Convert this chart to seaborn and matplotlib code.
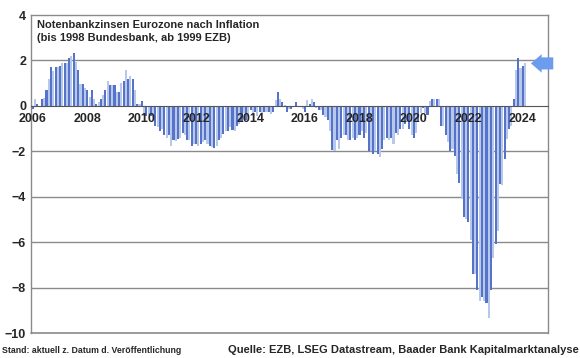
import matplotlib
matplotlib.use("Agg")
import matplotlib.pyplot as plt
import numpy as np
import pandas as pd
import seaborn as sns

START_YEAR = 2006
real_rate = [
    -0.15, 0.3, 0.1, 0.0, 0.3, 0.35, 0.7, 1.2, 1.7, 1.55, 1.7, 1.7,           # 2006
    1.75, 1.9, 1.9, 1.9, 2.1, 2.2, 2.35, 1.95, 1.6, 0.95, 0.95, 0.8,          # 2007
    0.7, 0.4, 0.7, 0.3, 0.1, 0.15, 0.3, 0.5, 0.7, 1.1, 0.9, 0.9,              # 2008
    0.9, 0.6, 0.6, 1.0, 1.1, 1.6, 1.2, 1.3, 1.2, 0.7, 0.1, 0.1,               # 2009
    0.2, -0.45, -0.45, -0.4, -0.45, -0.5, -0.9, -0.95, -1.1, -1.0, -1.3, -1.4,  # 2010
    -1.3, -1.75, -1.5, -1.55, -1.45, -1.4, -1.2, -1.3, -1.5, -1.5, -1.75, -1.7,  # 2011
    -1.7, -1.75, -1.7, -1.6, -1.5, -1.7, -1.75, -1.8, -1.85, -1.75, -1.5, -1.4,  # 2012
    -1.25, -1.1, -1.1, -0.95, -1.05, -1.1, -0.9, -0.8, -0.65, -0.3, -0.6, -0.5,  # 2013
    -0.2, -0.45, -0.25, -0.45, -0.25, -0.35, -0.25, -0.25, -0.25, -0.35, -0.25, 0.25,  # 2014
    0.63, 0.3, 0.15, 0.05, -0.25, -0.15, -0.15, -0.05, 0.15, -0.05, -0.05, -0.15,  # 2015
    -0.25, 0.25, 0.1, 0.3, 0.15, -0.1, -0.2, -0.2, -0.4, -0.5, -0.6, -1.1,     # 2016
    -1.95, -2.0, -1.5, -1.9, -1.4, -1.3, -1.3, -1.5, -1.5, -1.4, -1.5, -1.4,   # 2017
    -1.3, -1.1, -1.4, -1.2, -2.0, -2.0, -2.1, -2.0, -2.1, -2.25, -1.9, -1.5,   # 2018
    -1.4, -1.5, -1.4, -1.7, -1.2, -1.3, -1.0, -1.0, -0.8, -0.7, -1.0, -1.3,    # 2019
    -1.4, -1.2, -0.7, -0.3, -0.1, -0.3, -0.4, 0.2, 0.3, 0.3, 0.3, 0.3,         # 2020
    -0.9, -0.9, -1.3, -1.6, -2.0, -1.9, -2.2, -3.0, -3.4, -4.1, -4.9, -5.0,    # 2021
    -5.1, -5.9, -7.4, -7.4, -8.1, -8.6, -8.4, -8.6, -8.7, -9.35, -8.1, -6.7,   # 2022
    -6.1, -5.5, -3.45, -3.5, -2.35, -1.45, -1.0, -0.9, 0.3, 1.6, 2.1, 1.65,    # 2023
    1.75, 1.9,                                                                 # 2024
]
year_ticks = list(range(2006, 2025, 2))
y_ticks = [-10, -8, -6, -4, -2, 0, 2, 4]

TITLE = "Notenbankzinsen Eurozone nach Inflation\n(bis 1998 Bundesbank, ab 1999 EZB)"
NOTE_LEFT = "Stand: aktuell z. Datum d. Veröffentlichung"
NOTE_RIGHT = "Quelle: EZB, LSEG Datastream, Baader Bank Kapitalmarktanalyse"

DARK = "#4468dc"
LIGHT = "#aec6f4"
ARROW = "#6c9cee"
GRID = "#8a8a8a"

df = pd.DataFrame({"value": real_rate})
df["date"] = START_YEAR + np.arange(len(df)) / 12.0
df["shade"] = np.where(np.arange(len(df)) % 2 == 0, "d", "l")

sns.set_style("white")
plt.rcParams["font.family"] = ["Liberation Sans", "DejaVu Sans"]

fig = plt.figure(figsize=(5.8, 3.58), dpi=100)
ax = fig.add_axes([0.0534, 0.0698, 0.8916, 0.8882])

sns.barplot(
    data=df, x="date", y="value", hue="shade",
    palette={"d": DARK, "l": LIGHT}, native_scale=True, dodge=False,
    width=0.92, linewidth=0, legend=False, ax=ax,
)

ax.set_xlim(2005.93, 2024.93)
ax.set_ylim(-10, 4)
ax.set_xlabel("")
ax.set_ylabel("")

# horizontal grid
for yv in y_ticks[1:-1]:
    if yv != 0:
        ax.axhline(yv, color=GRID, lw=1.0, zorder=0)

# x axis sits on the zero line, labels drawn over the bars
ax.spines["bottom"].set_position(("data", 0))
ax.spines["bottom"].set_color("#555555")
ax.spines["bottom"].set_zorder(6)
ax.xaxis.set_zorder(6)
ax.axhline(-10, color=GRID, lw=1.2, clip_on=False, zorder=0)
for side in ["left", "right", "top"]:
    ax.spines[side].set_color(GRID)
    ax.spines[side].set_linewidth(1.0)

ax.set_xticks(year_ticks)
ax.set_xticklabels([str(y) for y in year_ticks])
ax.set_yticks(y_ticks)
ax.tick_params(axis="x", direction="out", length=4, width=0.8, color="#555555",
               pad=1, labelsize=9)
ax.tick_params(axis="y", direction="out", length=2, width=0.8, color=GRID,
               pad=1.5, labelsize=9)
for lab in ax.get_xticklabels() + ax.get_yticklabels():
    lab.set_fontweight("bold")

ax.text(0.012, 0.985, TITLE, transform=ax.transAxes, ha="left", va="top",
        fontsize=8, fontweight="bold", linespacing=1.35)

# arrow pointing at the latest value
ax.annotate("", xy=(2024.3, 1.87), xytext=(2025.12, 1.87),
            arrowprops=dict(arrowstyle="simple,head_length=0.55,head_width=0.95,tail_width=0.62",
                            mutation_scale=14, color=ARROW, lw=0, shrinkA=0, shrinkB=0),
            annotation_clip=False)

fig.text(0.004, 0.022, NOTE_LEFT, ha="left", va="center", fontsize=6.3, fontweight="bold")
fig.text(0.997, 0.022, NOTE_RIGHT, ha="right", va="center", fontsize=8, fontweight="bold")

fig.savefig("out.png", dpi=100)
